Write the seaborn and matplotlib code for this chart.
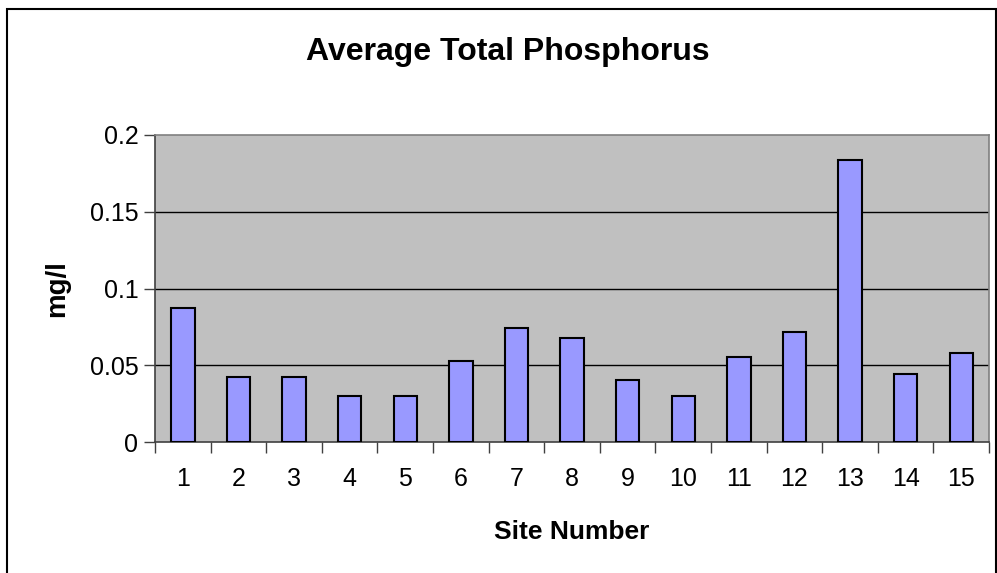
import numpy as np
import pandas as pd
import matplotlib
matplotlib.use('Agg')
import matplotlib.pyplot as plt
from matplotlib.patches import Rectangle
import seaborn as sns

# values (mg/l)
sites = ['1', '2', '3', '4', '5', '6', '7', '8', '9', '10', '11', '12', '13', '14', '15']
phosphorus = [0.0876, 0.0421, 0.0421, 0.0297, 0.0297, 0.0531, 0.0742, 0.0675,
              0.0406, 0.0297, 0.0553, 0.0718, 0.1835, 0.0445, 0.0579]
y_ticks = [0, 0.05, 0.1, 0.15, 0.2]
y_tick_labels = ['0', '0.05', '0.1', '0.15', '0.2']

df = pd.DataFrame({'site': sites, 'mg_l': phosphorus})

sns.set_style('white', {'xtick.bottom': True, 'ytick.left': True})
plt.rcParams['font.family'] = ['Liberation Sans', 'DejaVu Sans']
plt.rcParams['text.color'] = 'black'
plt.rcParams['xtick.color'] = 'black'
plt.rcParams['ytick.color'] = 'black'
plt.rcParams['axes.labelcolor'] = 'black'

fig = plt.figure(figsize=(9.97, 5.73), dpi=100)
ax = fig.add_axes([0.1555, 0.2286, 0.8365, 0.5358])
ax.set_facecolor('#C0C0C0')

sns.barplot(data=df, x='site', y='mg_l', color='#9999FF', width=0.42,
            edgecolor='black', linewidth=1.5, saturation=1, ax=ax, zorder=3)

ax.set_ylim(0, 0.2)
ax.set_xlim(-0.5, len(sites) - 0.5)
ax.set_yticks(y_ticks)
ax.set_yticklabels(y_tick_labels)
for y in y_ticks[1:-1]:
    ax.axhline(y, color='black', linewidth=1, zorder=1)

# category labels centred, tick marks between categories
ax.set_xticks(np.arange(len(sites) + 1) - 0.5)
ax.set_xticklabels([])
ax.set_xticks(np.arange(len(sites)), minor=True)
ax.set_xticklabels(sites, minor=True)
ax.tick_params(axis='x', which='minor', length=0, pad=18, labelsize=18)
ax.tick_params(axis='x', which='major', length=8, width=1, color='#404040', direction='out')
ax.tick_params(axis='y', length=8, width=1, color='#404040', direction='out', pad=4, labelsize=18)

for side in ['left', 'bottom']:
    ax.spines[side].set_color('#404040')
    ax.spines[side].set_linewidth(1.2)
for side in ['top', 'right']:
    ax.spines[side].set_color('#808080')
    ax.spines[side].set_linewidth(1.2)

ax.set_xlabel('Site Number', fontsize=19, fontweight='bold', labelpad=21)
ax.set_ylabel('mg/l', fontsize=20, fontweight='bold', labelpad=14)
fig.text(0.509, 0.91, 'Average Total Phosphorus', ha='center', va='center',
         fontsize=23, fontweight='bold')

# outer chart border
fig.patches.append(Rectangle((7 / 997, -0.02), 989 / 997, 1 - 9 / 573 + 0.02,
                             transform=fig.transFigure, fill=False,
                             edgecolor='black', linewidth=1.5))

fig.savefig('out.png', dpi=100)
